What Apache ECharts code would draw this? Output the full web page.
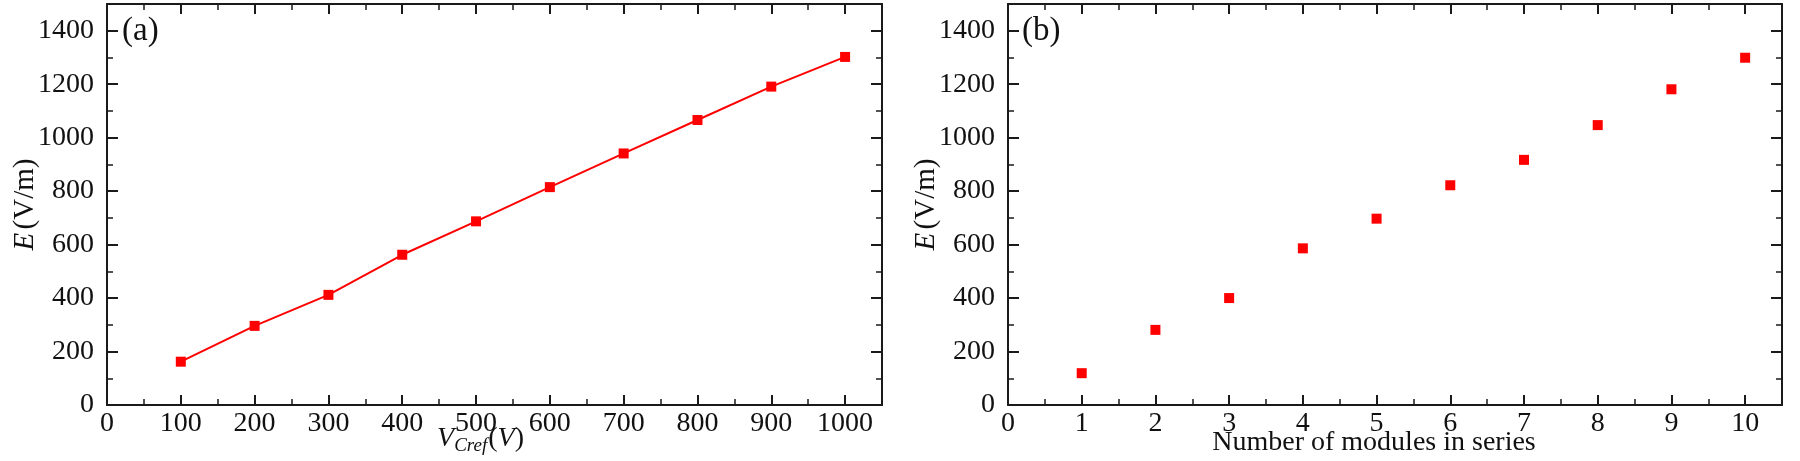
<!DOCTYPE html>
<html>
<head>
<meta charset="utf-8">
<script src="https://cdn.jsdelivr.net/npm/echarts@6/dist/echarts.min.js"></script>
<style>
html,body{margin:0;padding:0;background:#fff;}
#chart{width:1800px;height:461px;}
</style>
</head>
<body>
<div id="chart"></div>
<script>
// Panel (a): E vs V_Cref
const vCref = [100, 200, 300, 400, 500, 600, 700, 800, 900, 1000];
const eA = [162, 296, 412, 562, 687, 815, 941, 1066, 1191, 1302];
// Panel (b): E vs number of modules in series
const modules = [1, 2, 3, 4, 5, 6, 7, 8, 9, 10];
const eB = [119, 281, 400, 586, 697, 822, 917, 1047, 1181, 1299];
const panelLabels = ['(a)', '(b)'];

const FONT = 'Liberation Serif';
const AXC = '#1a1a1a';
const RED = '#ff0000';
const FS = 28;

function pairs(xs, ys) { return xs.map((x, i) => [x, ys[i]]); }
const plain = v => String(v);

const baseLabel = { fontFamily: FONT, fontSize: FS, color: '#111', formatter: plain };

function xMain(gi, max, interval, name, nameStyle, padding, gap) {
  return {
    type: 'value', gridIndex: gi, min: 0, max: max, interval: interval,
    position: 'bottom',
    axisLine: { onZero: false, lineStyle: { color: AXC, width: 2 } },
    axisTick: { inside: true, length: 10, lineStyle: { color: AXC, width: 2 } },
    minorTick: { show: true, splitNumber: 2, length: 6, lineStyle: { color: AXC, width: 1.5 } },
    axisLabel: Object.assign({ margin: 5, showMaxLabel: false }, baseLabel),
    splitLine: { show: false },
    name: name, nameLocation: 'middle', nameGap: gap, nameMoveOverlap: false,
    nameTextStyle: Object.assign({ padding: padding }, nameStyle)
  };
}
function xTop(gi, max, interval) {
  return {
    type: 'value', gridIndex: gi, min: 0, max: max, interval: interval,
    position: 'top',
    axisLine: { onZero: false, lineStyle: { color: AXC, width: 2 } },
    axisTick: { inside: true, length: 10, lineStyle: { color: AXC, width: 2 } },
    minorTick: { show: true, splitNumber: 2, length: 6, lineStyle: { color: AXC, width: 1.5 } },
    axisLabel: { show: false }, splitLine: { show: false }
  };
}
function yMain(gi) {
  return {
    type: 'value', gridIndex: gi, min: 0, max: 1500, interval: 200,
    position: 'left',
    axisLine: { onZero: false, lineStyle: { color: AXC, width: 2 } },
    axisTick: { inside: true, length: 11, lineStyle: { color: AXC, width: 2 } },
    minorTick: { show: true, splitNumber: 2, length: 6, lineStyle: { color: AXC, width: 1.5 } },
    axisLabel: Object.assign({ margin: 13, showMaxLabel: false }, baseLabel),
    splitLine: { show: false },
    name: '{i|E} {n|(V/m)}', nameLocation: 'middle', nameGap: 67, nameMoveOverlap: false,
    nameTextStyle: {
      rich: {
        i: { fontFamily: FONT, fontSize: 29, fontStyle: 'italic', color: '#111' },
        n: { fontFamily: FONT, fontSize: 29, color: '#111' }
      }
    }
  };
}
function yRight(gi) {
  return {
    type: 'value', gridIndex: gi, min: 0, max: 1500, interval: 200,
    position: 'right',
    axisLine: { onZero: false, lineStyle: { color: AXC, width: 2 } },
    axisTick: { inside: true, length: 11, lineStyle: { color: AXC, width: 2 } },
    minorTick: { show: true, splitNumber: 2, length: 6, lineStyle: { color: AXC, width: 1.5 } },
    axisLabel: { show: false }, splitLine: { show: false }
  };
}

const option = {
  backgroundColor: '#fff',
  animation: false,
  grid: [
    { left: 107, top: 4, width: 775, height: 401, containLabel: false, outerBoundsMode: 'none' },
    { left: 1008, top: 4, width: 774, height: 401, containLabel: false, outerBoundsMode: 'none' }
  ],
  xAxis: [
    xMain(0, 1050, 100, '{i|V}{sub|Cref}{n|(}{i|V}{n|)}', {
      rich: {
        i: { fontFamily: FONT, fontSize: 28, fontStyle: 'italic', color: '#111', lineHeight: 28 },
        n: { fontFamily: FONT, fontSize: 28, color: '#111', lineHeight: 28 },
        sub: { fontFamily: FONT, fontSize: 19, fontStyle: 'italic', color: '#111', lineHeight: 18, padding: [14, 1, 0, 0] }
      }
    }, [0, 28, 0, 0], 20),
    xTop(0, 1050, 100),
    xMain(1, 10.5, 1, 'Number of modules in series', { fontFamily: FONT, fontSize: FS, color: '#111' }, [0, 42, 0, 0], 24),
    xTop(1, 10.5, 1)
  ],
  yAxis: [yMain(0), yRight(0), yMain(1), yRight(1)],
  graphic: [
    { type: 'text', left: 122, top: 15, style: { text: panelLabels[0], font: '33px "Liberation Serif"', fill: '#111' } },
    { type: 'text', left: 1022, top: 15, style: { text: panelLabels[1], font: '33px "Liberation Serif"', fill: '#111' } }
  ],
  series: [
    {
      type: 'line', xAxisIndex: 0, yAxisIndex: 0,
      data: pairs(vCref, eA),
      symbol: 'rect', symbolSize: 10,
      lineStyle: { color: RED, width: 2 },
      itemStyle: { color: RED, borderWidth: 0 }
    },
    {
      type: 'scatter', xAxisIndex: 2, yAxisIndex: 2,
      data: pairs(modules, eB),
      symbol: 'rect', symbolSize: 10,
      itemStyle: { color: RED, opacity: 1 }
    }
  ]
};

const chart = echarts.init(document.getElementById('chart'), null, { renderer: 'canvas' });
chart.setOption(option);
</script>
</body>
</html>
